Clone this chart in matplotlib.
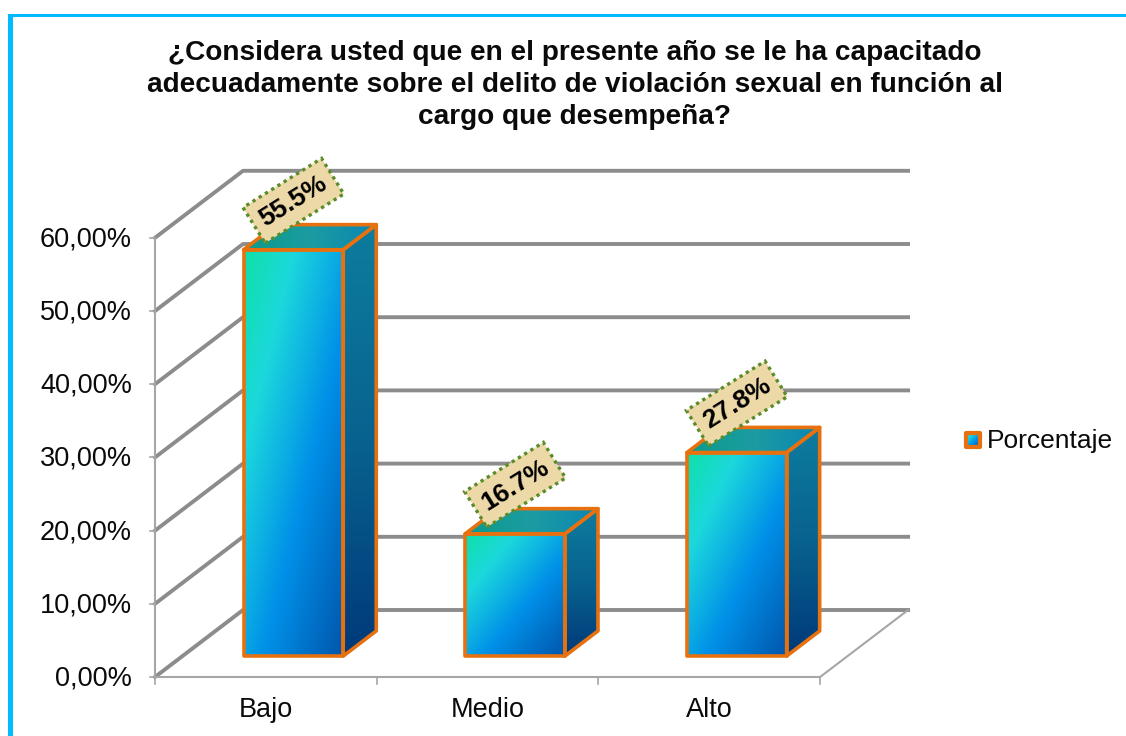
import numpy as np
import matplotlib
matplotlib.use('Agg')
import matplotlib.pyplot as plt
from matplotlib.colors import LinearSegmentedColormap
from matplotlib.patches import Polygon, Rectangle

plt.rcParams['font.family'] = ['Liberation Sans', 'DejaVu Sans']

categories = ['Bajo', 'Medio', 'Alto']
values = [55.5, 16.7, 27.8]
value_labels = ['55.5%', '16.7%', '27.8%']
ticks = [0, 10, 20, 30, 40, 50, 60]
tick_labels = ['0,00%', '10,00%', '20,00%', '30,00%', '40,00%', '50,00%', '60,00%']
legend_label = 'Porcentaje'
title = ('¿Considera usted que en el presente año se le ha capacitado\n'
         'adecuadamente sobre el delito de violación sexual en función al\n'
         'cargo que desempeña?')

GREY = '#8c8c8c'
THIN = '#a6a6a6'
ORANGE = '#e8710f'
CYAN = '#00bbff'
INK = '#0a0a0a'

front_cmap = LinearSegmentedColormap.from_list('front', [(0, '#0fe0a8'), (.25, '#1cd8dc'), (.6, '#0090e8'), (1, '#0056ac')])
side_cmap = LinearSegmentedColormap.from_list('side', ['#0d7c9e', '#08628f', '#003a7a'])
top_cmap = LinearSegmentedColormap.from_list('top', ['#0a9a8c', '#1c9ca2', '#0a86b2'])


def project(cat, val, depth=0.0):
    # oblique projection: category, value, depth -> figure pixels
    return 155 + cat * 221.7 + depth * 88, 677 - val * 7.32 - depth * 67


def shade(ax, corners, cmap, grad, lw=2.6):
    corners = np.array(corners)
    x0, y0 = corners.min(axis=0)
    x1, y1 = corners.max(axis=0)
    u, v = np.meshgrid(np.linspace(0, 1, 64), np.linspace(0, 1, 64))
    im = ax.imshow(grad(u, v), cmap=cmap, vmin=0, vmax=1, extent=(x0, x1, y1, y0),
                   aspect='auto', zorder=3, interpolation='bilinear')
    im.set_clip_path(Polygon(corners, transform=ax.transData))
    ax.add_patch(Polygon(corners, fill=False, ec=ORANGE, lw=lw, joinstyle='round', zorder=4))


fig = plt.figure(figsize=(11.26, 7.36), dpi=100)
ax = fig.add_axes([0, 0, 1, 1])
ax.axis('off')

# outer frame, open on the right and at the bottom
ax.add_patch(Rectangle((8, 14), 5.3, 722, fc=CYAN, ec='none'))
ax.add_patch(Rectangle((8, 14), 1118, 3, fc=CYAN, ec='none'))

# walls and floor
for t, lab in zip(ticks, tick_labels):
    x0, y0 = project(0, t)
    x1, y1 = project(0, t, 1)
    x2, y2 = project(3, t, 1)
    ax.plot([x0, x1, x2], [y0, y1, y2], color=GREY, lw=2.8, zorder=1, solid_joinstyle='round')
    ax.plot([x0 - 5, x0], [y0, y0], color=THIN, lw=1.2, zorder=1)
    ax.text(132, y0 + 1.5, lab, ha='right', va='center', fontsize=19.5, color=INK)

ax.plot(*zip(project(0, 60), project(0, 0), project(3, 0), project(3, 0, 1)), color=THIN, lw=1.5, zorder=2)
for i in range(4):
    x, y = project(i, 0)
    ax.plot([x, x], [y, y + 7], color=THIN, lw=1.2, zorder=1)

# bars
d0, d1 = 0.313, 0.688
for i, (name, val, lab) in enumerate(zip(categories, values, value_labels)):
    a, b = i + 0.275, i + 0.725
    front = [project(a, 0, d0), project(b, 0, d0), project(b, val, d0), project(a, val, d0)]
    side = [project(b, 0, d0), project(b, 0, d1), project(b, val, d1), project(b, val, d0)]
    top = [project(a, val, d0), project(b, val, d0), project(b, val, d1), project(a, val, d1)]
    shade(ax, side, side_cmap, lambda u, v: v)
    shade(ax, top, top_cmap, lambda u, v: u)
    shade(ax, front, front_cmap, lambda u, v: 0.5 * u + 0.5 * v)

    cx, cy = project(i + 0.5, val, d0)
    ax.text(cx, cy - 49, lab, rotation=32, rotation_mode='anchor',
            ha='center', va='center', fontsize=19, fontweight='bold', color='black', zorder=6,
            bbox=dict(boxstyle='square,pad=0.34', fc='#edd8a8', ec='#5b8c2a', ls=(0, (1, 1.2)), lw=2.4))
    ax.text(project(i + 0.5, 0)[0], 710, name, ha='center', va='center', fontsize=19.5, color=INK)

# title
ax.text(575, 85, title, ha='center', va='center', fontsize=20.2, fontweight='bold', color=INK, linespacing=1.28)

# legend
shade(ax, [(966, 433), (980, 433), (980, 447), (966, 447)], front_cmap, lambda u, v: 0.5 * u + 0.5 * v, lw=3)
ax.text(987, 441, legend_label, ha='left', va='center', fontsize=19, color=INK)

ax.set_xlim(0, 1126)
ax.set_ylim(736, 0)
fig.savefig('out.png', dpi=100)
